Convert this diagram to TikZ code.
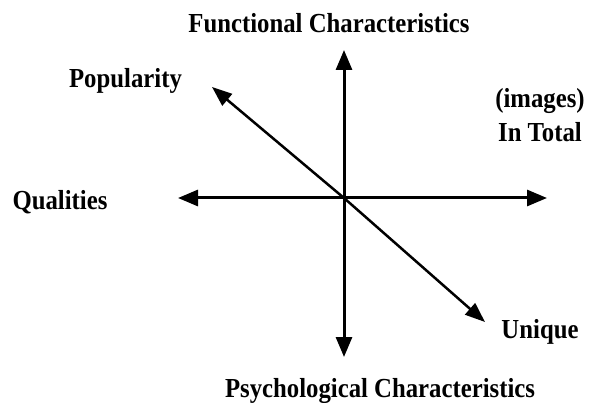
\documentclass[tikz,border=0pt]{standalone}
\usepackage{fontspec}
\setmainfont{Liberation Serif}[FakeStretch=0.9]
\usetikzlibrary{arrows.meta}
\begin{document}
\begin{tikzpicture}[x=1pt,y=-1pt,
  lbl/.style={inner sep=0pt,anchor=base,font=\fontsize{27.5}{30}\selectfont\bfseries},
  axis/.style={line width=3pt,-{Triangle[length=20pt,width=16pt]}},
  diag/.style={line width=2.5pt,-{Triangle[length=20pt,width=15pt]}}]
\useasboundingbox (0,0) rectangle (596,403);
\fill[white] (0,0) rectangle (596,403);
\coordinate (O) at (344,198);
\coordinate (T) at (344,50);
\coordinate (B) at (344,357);
\coordinate (L) at (178,198);
\coordinate (R) at (547,198);
\coordinate (UL) at (212,87);
\coordinate (LR) at (485,322);
\draw[axis] (O) -- (T);
\draw[axis] (O) -- (B);
\draw[axis] (O) -- (L);
\draw[axis] (O) -- (R);
\draw[diag] (O) -- (UL);
\draw[diag] (O) -- (LR);
\node[lbl] (func) at (329,33) {Functional Characteristics};
\node[lbl] (pop) at (125.5,88) {Popularity};
\node[lbl] (img) at (540,108) {(images)};
\node[lbl] (tot) at (540,142) {In Total};
\node[lbl] (qual) at (60,210) {Qualities};
\node[lbl] (uni) at (540,338) {Unique};
\node[lbl] (psy) at (380,397) {Psychological Characteristics};
\end{tikzpicture}
\end{document}
